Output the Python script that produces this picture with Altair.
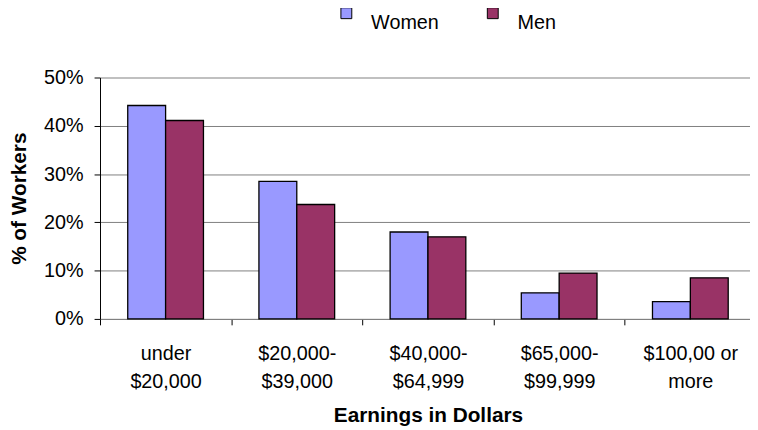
import altair as alt
import pandas as pd

categories = ["under\n$20,000", "$20,000-\n$39,000", "$40,000-\n$64,999",
              "$65,000-\n$99,999", "$100,00 or\nmore"]
series = ["Women", "Men"]
women = [44.2, 28.5, 18.0, 5.4, 3.6]
men = [41.1, 23.7, 17.0, 9.5, 8.5]
colors = ["#9999FF", "#993366"]
y_ticks = [0, 0.1, 0.2, 0.3, 0.4, 0.5]

rows = []
for i, c in enumerate(categories):
    rows.append({"cat": c, "sex": "Women", "pct": women[i] / 100})
    rows.append({"cat": c, "sex": "Men", "pct": men[i] / 100})
df = pd.DataFrame(rows)

FONT = "Liberation Sans"

chart = alt.Chart(df).mark_bar(stroke="black", strokeWidth=1.3).encode(
    x=alt.X(
        "cat:N", sort=categories,
        scale=alt.Scale(paddingInner=0, paddingOuter=0),
        axis=alt.Axis(
            title="Earnings in Dollars", labelAngle=0,
            labelExpr="split(datum.label, '\\n')",
            tickBand="extent", tickSize=6, tickColor="black",
            domainColor="#808080", labelFontSize=20, labelColor="black",
            labelLineHeight=28, labelPadding=19, labelFont=FONT,
            titleFont=FONT, titleFontSize=21, titleFontWeight="bold",
            titleColor="black", titleX=331.5, titleY=104,
            titleBaseline="alphabetic", titleAlign="center",
        ),
    ),
    xOffset=alt.XOffset("sex:N", sort=series,
                        scale=alt.Scale(paddingInner=0, paddingOuter=0.7325)),
    y=alt.Y(
        "pct:Q",
        scale=alt.Scale(domain=[0, 0.5]),
        axis=alt.Axis(
            title="% of Workers", values=y_ticks, format=".0%",
            tickSize=6, tickColor="black", domainColor="black",
            labelFontSize=20, labelColor="black", labelPadding=11,
            labelFont=FONT, grid=True, gridColor="#808080", gridWidth=1,
            titleFont=FONT, titleFontSize=21, titleFontWeight="bold",
            titleColor="black", titleX=-75.5, titleBaseline="alphabetic",
        ),
    ),
    color=alt.Color(
        "sex:N", sort=series,
        scale=alt.Scale(domain=series, range=colors),
        legend=alt.Legend(
            title=None, orient="none", legendX=239, legendY=-75,
            direction="horizontal", symbolType="square", symbolSize=121,
            symbolStrokeColor="black", symbolStrokeWidth=1,
            symbolOpacity=1, labelFontSize=20, labelFont=FONT,
            labelColor="black", labelOffset=15, columnPadding=44,
            labelBaseline="top", padding=0,
        ),
    ),
).properties(
    width=663, height=244,
    padding={"left": 93, "top": 68, "right": -6, "bottom": 108},
    autosize=alt.AutoSizeParams(type="none"),
).configure(font=FONT).configure_view(strokeWidth=0)

chart.save("out.html", embed_options={"renderer": "svg", "actions": False})
